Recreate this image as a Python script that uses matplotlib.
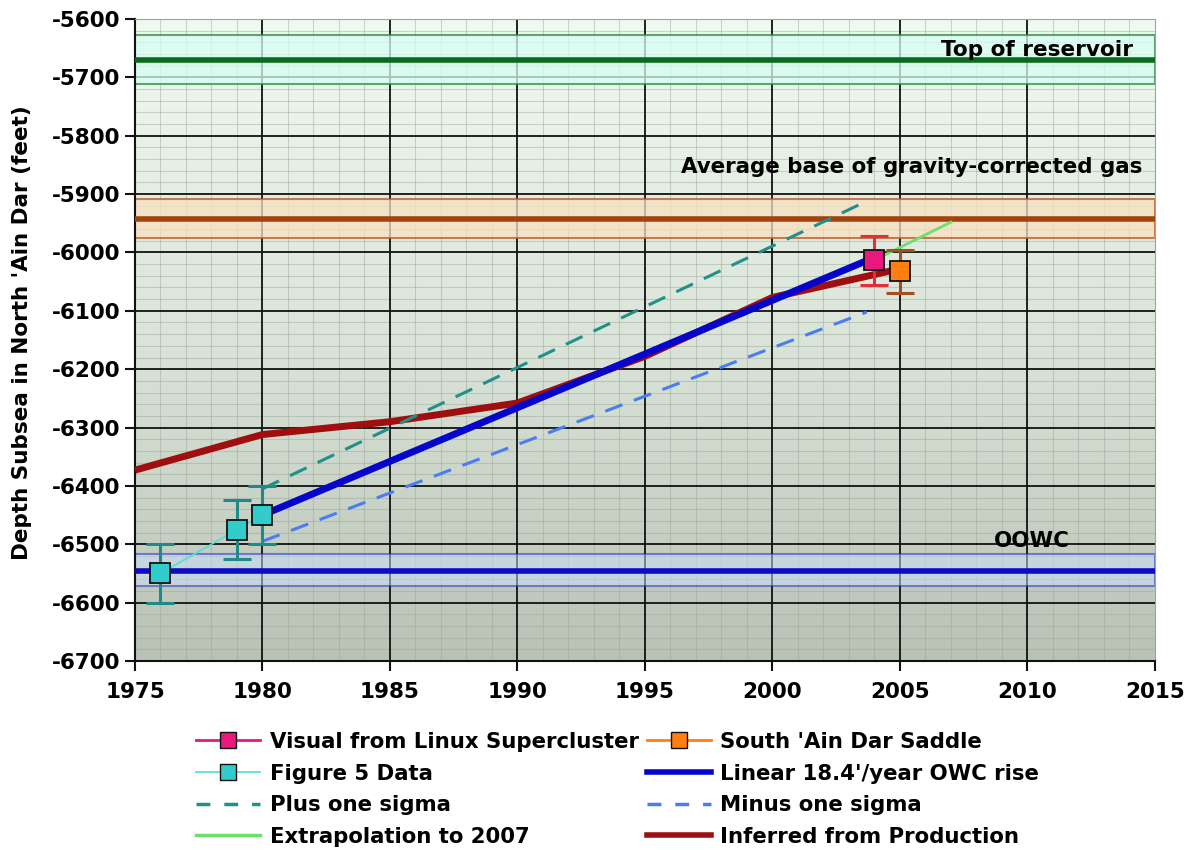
import numpy as np
import matplotlib
matplotlib.use("Agg")
import matplotlib.pyplot as plt
from matplotlib.lines import Line2D
from matplotlib.colors import LinearSegmentedColormap

# ---- data ----
fig5_years = [1976, 1979, 1980]
fig5_depth = [-6550, -6475, -6450]
fig5_err = [50, 50, 50]

visual_year = [2004]
visual_depth = [-6013]
visual_err = [42]

saddle_year = [2005]
saddle_depth = [-6032]
saddle_err = [37]

linear_years = [1980, 2004]
linear_depth = [-6450, -6008.4]

plus_years = [1980, 2003.7]
plus_depth = [-6405, -5912]

minus_years = [1980, 2003.7]
minus_depth = [-6495, -6102]

extrap_years = [2004, 2007]
extrap_depth = [-6013, -5948]

inferred_years = [1975, 1980, 1985, 1990, 1995, 2000, 2005]
inferred_depth = [-6373, -6312, -6290, -6258, -6178, -6077, -6028]

top_res = -5670
top_res_band = (-5712, -5628)
gas_base = -5943
gas_band = (-5975, -5908)
oowc = -6545
oowc_band = (-6572, -6517)

xticks = [1975, 1980, 1985, 1990, 1995, 2000, 2005, 2010, 2015]
yticks = [-5600, -5700, -5800, -5900, -6000, -6100, -6200, -6300, -6400, -6500, -6600, -6700]

plt.rcParams['font.family'] = ['DejaVu Sans']
plt.rcParams['font.weight'] = 'bold'
plt.rcParams['axes.unicode_minus'] = False

fig = plt.figure(figsize=(11.89, 8.5), dpi=100)
ax = fig.add_axes([0.1135, 0.2224, 0.8579, 0.7552])
ax.set_xlim(1975, 2015)
ax.set_ylim(-6700, -5600)

# background gradient
cmap = LinearSegmentedColormap.from_list('bg', ['#b8c2b5', '#dae4d8', '#f1faf1'])
grad = np.linspace(0, 1, 256).reshape(-1, 1)
ax.imshow(grad, aspect='auto', cmap=cmap, origin='lower',
          extent=[1975, 2015, -6700, -5600], zorder=0)

# grids
for x in np.arange(1976, 2015, 1):
    if x % 5:
        ax.axvline(x, color='#98a698', lw=0.8, alpha=0.45, zorder=1)
for y in np.arange(-6680, -5600, 20):
    if y % 100:
        ax.axhline(y, color='#98a698', lw=0.8, alpha=0.45, zorder=1)
for x in xticks[1:-1]:
    ax.axvline(x, color='#111111', lw=1.3, zorder=1.5)
for y in yticks[1:-1]:
    ax.axhline(y, color='#111111', lw=1.3, zorder=1.5)

# bands
ax.axhspan(*top_res_band, facecolor='#d6fdf4', alpha=0.75, edgecolor='#2e8b3e', lw=1.5, zorder=2)
ax.axhline(top_res, color='#0b6b1a', lw=4, zorder=3)
ax.axhspan(*gas_band, facecolor='#f8e0c0', alpha=0.75, edgecolor='#b85a20', lw=1.5, zorder=2)
ax.axhline(gas_base, color='#a2420c', lw=4, zorder=3)
ax.axhspan(*oowc_band, facecolor='#c8e0ff', alpha=0.5, edgecolor='#2020c0', lw=1.5, zorder=2)
ax.axhline(oowc, color='#0a0ac8', lw=4, zorder=3)

# lines
ax.plot(inferred_years, inferred_depth, color='#a00f0f', lw=5, zorder=4, solid_capstyle='butt')
ax.plot(linear_years, linear_depth, color='#0505cc', lw=5, zorder=5)
ax.plot(plus_years, plus_depth, color='#22908a', lw=2.2, dashes=(6, 4), zorder=4)
ax.plot(minus_years, minus_depth, color='#4a7ef0', lw=2.2, dashes=(6, 4), zorder=4)
ax.plot(extrap_years, extrap_depth, color='#6ee06a', lw=2, zorder=4)
ax.plot(fig5_years, fig5_depth, color='#50dcdc', lw=1.2, zorder=4)

# data points with error bars
ax.errorbar(fig5_years, fig5_depth, yerr=fig5_err, fmt='none', ecolor='#1f8a88',
            elinewidth=2.2, capsize=10, capthick=2.2, zorder=6)
ax.plot(fig5_years, fig5_depth, 's', ms=15, mfc='#33cccc', mec='#111111', mew=1.3, zorder=7)
ax.errorbar(visual_year, visual_depth, yerr=visual_err, fmt='none', ecolor='#e0303a',
            elinewidth=2.2, capsize=10, capthick=2.2, zorder=6)
ax.plot(visual_year, visual_depth, 's', ms=15, mfc='#e8187c', mec='#111111', mew=1.3, zorder=7)
ax.errorbar(saddle_year, saddle_depth, yerr=saddle_err, fmt='none', ecolor='#a05020',
            elinewidth=2.2, capsize=10, capthick=2.2, zorder=6)
ax.plot(saddle_year, saddle_depth, 's', ms=15, mfc='#ff7f10', mec='#111111', mew=1.3, zorder=7)

# annotations
ax.text(2014.15, -5653, 'Top of reservoir', ha='right', va='center', fontsize=15.6, fontweight='bold', zorder=8)
ax.text(2014.5, -5853, 'Average base of gravity-corrected gas', ha='right', va='center',
        fontsize=15.4, fontweight='bold', zorder=8)
ax.text(2011.67, -6494, 'OOWC', ha='right', va='center', fontsize=15.4, fontweight='bold', zorder=8)

# axes styling
ax.set_xticks(xticks)
ax.set_yticks(yticks)
ax.tick_params(axis='both', direction='out', length=7, width=1.5, labelsize=15.5, color='#111111')
ax.tick_params(axis='x', pad=8)
for lab in ax.get_xticklabels() + ax.get_yticklabels():
    lab.set_fontweight('bold')
ax.spines['left'].set_color('#111111')
ax.spines['left'].set_linewidth(1.5)
ax.spines['bottom'].set_color('#111111')
ax.spines['bottom'].set_linewidth(1.5)
ax.spines['top'].set_color('#a0a0a0')
ax.spines['right'].set_color('#a0a0a0')
ax.set_ylabel("Depth Subsea in North 'Ain Dar (feet)", fontsize=15.5, fontweight='bold',
              va='center')
ax.yaxis.set_label_coords(-0.111, 0.512)

# legend
handles = [
    Line2D([], [], color='#e8187c', lw=2, marker='s', ms=12, mfc='#e8187c', mec='#111111'),
    Line2D([], [], color='#50dcdc', lw=1.2, marker='s', ms=12, mfc='#33cccc', mec='#111111'),
    Line2D([], [], color='#22908a', lw=2.5, dashes=(4, 4)),
    Line2D([], [], color='#6ee06a', lw=2.5),
    Line2D([], [], color='#ff7f10', lw=2, marker='s', ms=12, mfc='#ff7f10', mec='#111111'),
    Line2D([], [], color='#0505cc', lw=4),
    Line2D([], [], color='#4a7ef0', lw=2.5, dashes=(4, 4)),
    Line2D([], [], color='#a00f0f', lw=4),
]
labels = ['Visual from Linux Supercluster', 'Figure 5 Data', 'Plus one sigma', 'Extrapolation to 2007',
          "South 'Ain Dar Saddle", "Linear 18.4'/year OWC rise", 'Minus one sigma', 'Inferred from Production']
fig.legend(handles, labels, ncol=2, loc='upper left', bbox_to_anchor=(0.158, 0.149), frameon=False,
           prop={'size': 15.3, 'weight': 'bold'}, handlelength=3.0, handletextpad=0.45,
           columnspacing=0.4, labelspacing=0.55, borderaxespad=0)

fig.savefig('out.png', dpi=100)
